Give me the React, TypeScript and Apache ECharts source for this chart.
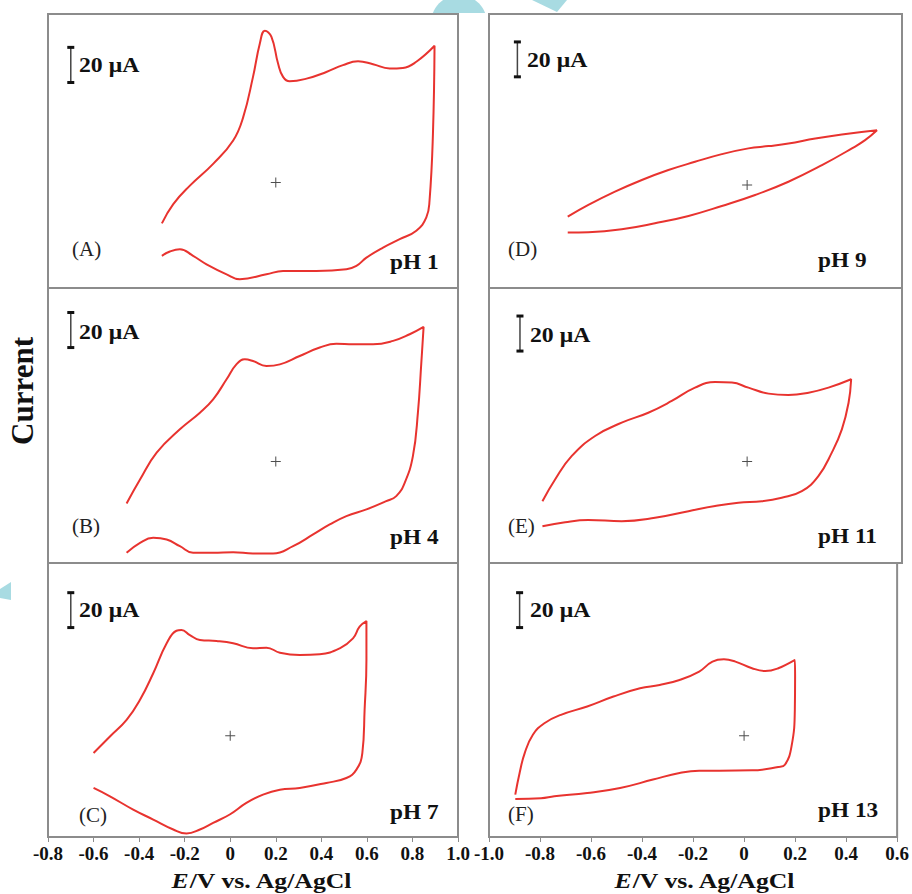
import React, { useEffect, useRef } from 'react';
import * as echarts from 'echarts';

// ---- labels ----
const panelLetters = ['(A)', '(B)', '(C)', '(D)', '(E)', '(F)'];
const phLabels = ['pH 1', 'pH 4', 'pH 7', 'pH 9', 'pH 11', 'pH 13'];
const xTitle = 'E/V vs. Ag/AgCl';
const yTitle = 'Current';
const scaleText = '20 μA';

// ---- x ranges (V) ----
const leftRange = [-0.8, 1.0];
const rightRange = [-1.0, 0.6];

// ---- CV data: potential E (V) and current I (μA) ----
const potentialA = [-0.30, -0.25, -0.177, -0.075, 0.013, 0.057, 0.10, 0.13, 0.152, 0.181, 0.21, 0.232, 0.261, 0.335, 0.422, 0.495, 0.561, 0.627, 0.70, 0.758, 0.817, 0.897,
  0.89, 0.875, 0.861, 0.817, 0.744, 0.671, 0.598, 0.554, 0.51, 0.378, 0.232, 0.159, 0.042, -0.016, -0.104, -0.163, -0.221, -0.265, -0.30];
const currentA = [-23.2, -12.2, -1.7, 10.7, 24, 37.3, 60.2, 79.2, 86.5, 83, 67.8, 60.2, 57.7, 59.2, 63, 66.9, 69.1, 67.4, 65, 65.3, 68.8, 77.9,
  27.8, -10.3, -19.8, -27.4, -32.2, -37, -42.7, -47.4, -49.3, -50.3, -50.3, -52.2, -55, -52.2, -46.5, -41.7, -37.9, -39.2, -41.7];

const potentialB = [-0.455, -0.396, -0.323, -0.221, -0.133, -0.075, -0.016, 0.027, 0.064, 0.10, 0.159, 0.218, 0.305, 0.393, 0.466, 0.539, 0.627, 0.715, 0.788, 0.849,
  0.839, 0.824, 0.802, 0.766, 0.729, 0.685, 0.598, 0.51, 0.437, 0.364, 0.276, 0.188, 0.10, 0.013, -0.075, -0.163, -0.221, -0.279, -0.338, -0.396, -0.455];
const currentB = [-24, -10.3, 5, 18.3, 27.8, 35.4, 46.9, 55.4, 58.3, 57.3, 54.5, 55.4, 60.2, 65, 67.2, 66.9, 66.9, 68.8, 72.6, 76.8,
  56.4, 27.8, 3, -12.2, -19.8, -22.7, -27.4, -31.2, -36, -41.7, -48.4, -52.6, -52.6, -51.8, -52.2, -52.2, -48.4, -44.6, -43.6, -46.5, -52.2];

const potentialC = [-0.60, -0.528, -0.455, -0.396, -0.338, -0.279, -0.236, -0.214, -0.177, -0.133, -0.06, 0.013, 0.10, 0.159, 0.218, 0.305, 0.393, 0.481, 0.539, 0.568, 0.598,
  0.598, 0.59, 0.58, 0.554, 0.51, 0.422, 0.305, 0.218, 0.144, 0.071, -0.002, -0.075, -0.133, -0.192, -0.25, -0.338, -0.426, -0.528, -0.60];
const currentC = [-9.9, -0.4, 9.1, 20.6, 35.8, 53, 60.2, 60.6, 57.7, 54.9, 54.3, 53, 50.1, 50.5, 47.6, 46.3, 46.7, 50.1, 55.8, 62.5, 65.7,
  43.4, 14.9, -9.9, -19.4, -24.2, -27, -29.9, -30.9, -33.7, -38.5, -45.1, -49.9, -53.7, -56, -53.7, -48, -42.3, -34.7, -29.9];

const potentialD = [-0.695, -0.615, -0.512, -0.408, -0.305, -0.202, -0.098, 0.005, 0.083, 0.16, 0.264, 0.367, 0.503,
  0.457, 0.406, 0.29, 0.16, 0.031, -0.098, -0.227, -0.357, -0.486, -0.615, -0.695];
const currentD = [-18.1, -11.4, -3.8, 2.9, 8.6, 13.3, 17.7, 21, 22.3, 23.8, 26.7, 29, 31.4,
  25.7, 21, 11.4, 1.9, -5.7, -12, -17.7, -21.9, -25.3, -27, -27.2];

const potentialE = [-0.793, -0.744, -0.68, -0.589, -0.486, -0.383, -0.292, -0.202, -0.124, -0.059, 0.005, 0.083, 0.16, 0.238, 0.315, 0.403,
  0.393, 0.367, 0.328, 0.276, 0.212, 0.134, 0.057, -0.034, -0.124, -0.227, -0.357, -0.486, -0.615, -0.705, -0.793];
const currentE = [-22.7, -10.3, 3, 14.5, 22.1, 27.8, 34.5, 42.1, 45.3, 45, 42.1, 38.7, 37.9, 39.2, 42.1, 46.9,
  33.5, 18.3, 5, -8.4, -17, -20.7, -22.7, -23.6, -25.5, -28.4, -32.2, -34.1, -33.5, -34.7, -37];

const potentialF = [-0.897, -0.88, -0.86, -0.828, -0.783, -0.718, -0.615, -0.512, -0.408, -0.331, -0.253, -0.176, -0.124, -0.079, -0.034, 0.031, 0.083, 0.134, 0.199,
  0.2, 0.199, 0.186, 0.16, 0.134, 0.031, -0.098, -0.176, -0.253, -0.357, -0.486, -0.615, -0.744, -0.796, -0.897];
const currentF = [-33.7, -21.3, -9.9, 0.6, 7.2, 12, 16.8, 22.5, 27.2, 29.1, 32, 36.8, 42.5, 43.8, 42.5, 38.7, 37.1, 38.7, 43.4,
  33.9, 14.9, -6.1, -16.6, -17.9, -19.8, -20, -20, -21.3, -25.1, -29.9, -32.8, -34.7, -35.8, -36.2];

// zero-current marker potential and scale bar (20 μA) placement per panel
const zeroMarkE = [0.2, 0.2, 0, 0, 0, 0];
const scaleBarE = [-0.70, -0.70, -0.70, -0.89, -0.88, -0.88];
const scaleBarLow = [57, 65, 62, 62, 63, 62];
const scaleBarUA = 20;
const yMin = [-60, -58, -58, -59, -58, -58];
const yMax = [96, 99, 99, 98, 99, 99];

const potentials = [potentialA, potentialB, potentialC, potentialD, potentialE, potentialF];
const currents = [currentA, currentB, currentC, currentD, currentE, currentF];

// ---- layout (pixels) ----
const colLeft = [48, 489];
const colWidth = [410, 413];
const rowTop = [14, 288, 563];
const rowHeight = [274, 275, 274];
const scaleTextPos = [[79, 65], [79, 332], [79, 610], [527, 60], [530, 335], [530, 610]];
const letterPos = [[72, 249], [72, 526], [79, 815], [508, 249], [508, 526], [508, 814]];
const phPos = [[390, 262], [390, 537], [390, 812], [818, 260], [818, 536], [818, 810]];

const SERIF = '"Liberation Serif", "Times New Roman", Times, serif';
const RED = '#e8332f';
const GRAY = '#8c8c8c';
const CYAN = '#a8dbe2';

function buildOption() {
  const grid: any[] = [];
  const xAxis: any[] = [];
  const yAxis: any[] = [];
  const series: any[] = [];
  const graphic: any[] = [];

  for (let i = 0; i < 6; i++) {
    const col = i < 3 ? 0 : 1;
    const row = i % 3;
    const range = col === 0 ? leftRange : rightRange;
    const bottom = row === 2;
    grid.push({
      left: colLeft[col], top: rowTop[row], width: colWidth[col], height: rowHeight[row],
      show: true, borderColor: GRAY, borderWidth: 2, backgroundColor: 'transparent',
    });
    xAxis.push({
      gridIndex: i, type: 'value', min: range[0], max: range[1], interval: 0.2,
      axisLine: { show: bottom, onZero: false, lineStyle: { color: GRAY, width: 2 } },
      axisTick: { show: bottom, length: 5, lineStyle: { color: GRAY, width: 1 } },
      axisLabel: {
        show: bottom, fontFamily: SERIF, fontWeight: 'bold', fontSize: 19, color: '#111', margin: 7,
        formatter: (v: number) => (Math.abs(v) < 1e-9 ? '0' : v.toFixed(1)),
      },
      splitLine: { show: false },
    });
    yAxis.push({
      gridIndex: i, type: 'value', min: yMin[i], max: yMax[i], show: false, splitLine: { show: false },
    });

    const pts = potentials[i].map((e, k) => [e, currents[i][k]]);
    series.push({
      type: 'line', xAxisIndex: i, yAxisIndex: i, data: pts, showSymbol: false, smooth: 0.45,
      lineStyle: { color: RED, width: 2 }, itemStyle: { color: RED }, silent: true, z: 4,
    });
    series.push({
      type: 'line', xAxisIndex: i, yAxisIndex: i,
      data: [[scaleBarE[i], scaleBarLow[i]], [scaleBarE[i], scaleBarLow[i] + scaleBarUA]],
      symbol: 'rect', symbolSize: [7, 3], showSymbol: true,
      itemStyle: { color: '#111' }, lineStyle: { color: '#444', width: 1.5 }, silent: true, z: 3,
    });
    series.push({
      type: 'scatter', xAxisIndex: i, yAxisIndex: i, data: [[zeroMarkE[i], 0]],
      symbol: 'path://M4.5,0h1v4.5h4.5v1h-4.5v4.5h-1v-4.5h-4.5v-1h4.5z', symbolSize: 10,
      itemStyle: { color: '#222' }, silent: true, z: 3,
    });

    graphic.push({
      type: 'text', x: scaleTextPos[i][0], y: scaleTextPos[i][1], scaleX: 1.08,
      style: { text: scaleText, fontFamily: SERIF, fontWeight: 'bold', fontSize: 22, fill: '#111', align: 'left', verticalAlign: 'middle' },
    });
    graphic.push({
      type: 'text', x: letterPos[i][0], y: letterPos[i][1],
      style: { text: panelLetters[i], fontFamily: SERIF, fontSize: 21, fill: '#222', align: 'left', verticalAlign: 'middle' },
    });
    graphic.push({
      type: 'text', x: phPos[i][0], y: phPos[i][1], scaleX: 1.06,
      style: { text: phLabels[i], fontFamily: SERIF, fontWeight: 'bold', fontSize: 22, fill: '#111', align: 'left', verticalAlign: 'middle' },
    });
  }

  // axis titles
  const titleParts = xTitle.split('/');
  const richTitle = `{i|${titleParts[0]}}{n|/${titleParts.slice(1).join('/')}}`;
  [262, 705].forEach((cx) => {
    graphic.push({
      type: 'text', x: cx, y: 881, scaleX: 1.17,
      style: {
        text: richTitle, align: 'center', verticalAlign: 'middle', fill: '#111',
        rich: {
          i: { fontFamily: SERIF, fontWeight: 'bold', fontStyle: 'italic', fontSize: 22, fill: '#111' },
          n: { fontFamily: SERIF, fontWeight: 'bold', fontSize: 22, fill: '#111' },
        },
      },
    });
  });
  graphic.push({
    type: 'text', x: 22, y: 391, rotation: Math.PI / 2,
    style: { text: yTitle, fontFamily: SERIF, fontWeight: 'bold', fontSize: 31, fill: '#111', align: 'center', verticalAlign: 'middle' },
  });

  // background watermark shapes
  const cap: number[][] = [];
  const t0 = Math.asin(10 / 28);
  for (let k = 0; k <= 24; k++) {
    const t = t0 + ((Math.PI - 2 * t0) * k) / 24;
    cap.push([459 + 28 * Math.cos(t), 23 - 28 * Math.sin(t)]);
  }
  graphic.push({ type: 'polygon', z: -1, shape: { points: cap }, style: { fill: CYAN } });
  graphic.push({ type: 'polygon', z: -1, shape: { points: [[532, 0], [567, 0], [557, 12]] }, style: { fill: CYAN } });
  graphic.push({ type: 'polygon', z: -1, shape: { points: [[11, 582], [11, 600], [0, 598], [0, 589]] }, style: { fill: CYAN } });

  return { animation: false, backgroundColor: '#fff', grid, xAxis, yAxis, series, graphic };
}

export default function App() {
  const ref = useRef<HTMLDivElement>(null);
  useEffect(() => {
    if (!ref.current) return;
    const chart = echarts.init(ref.current, null, { renderer: 'svg' });
    chart.setOption(buildOption() as any);
    return () => chart.dispose();
  }, []);
  return (
    <div
      ref={ref}
      style={{ position: 'absolute', left: 0, top: 0, width: 912, height: 894, background: '#fff' }}
    />
  );
}
